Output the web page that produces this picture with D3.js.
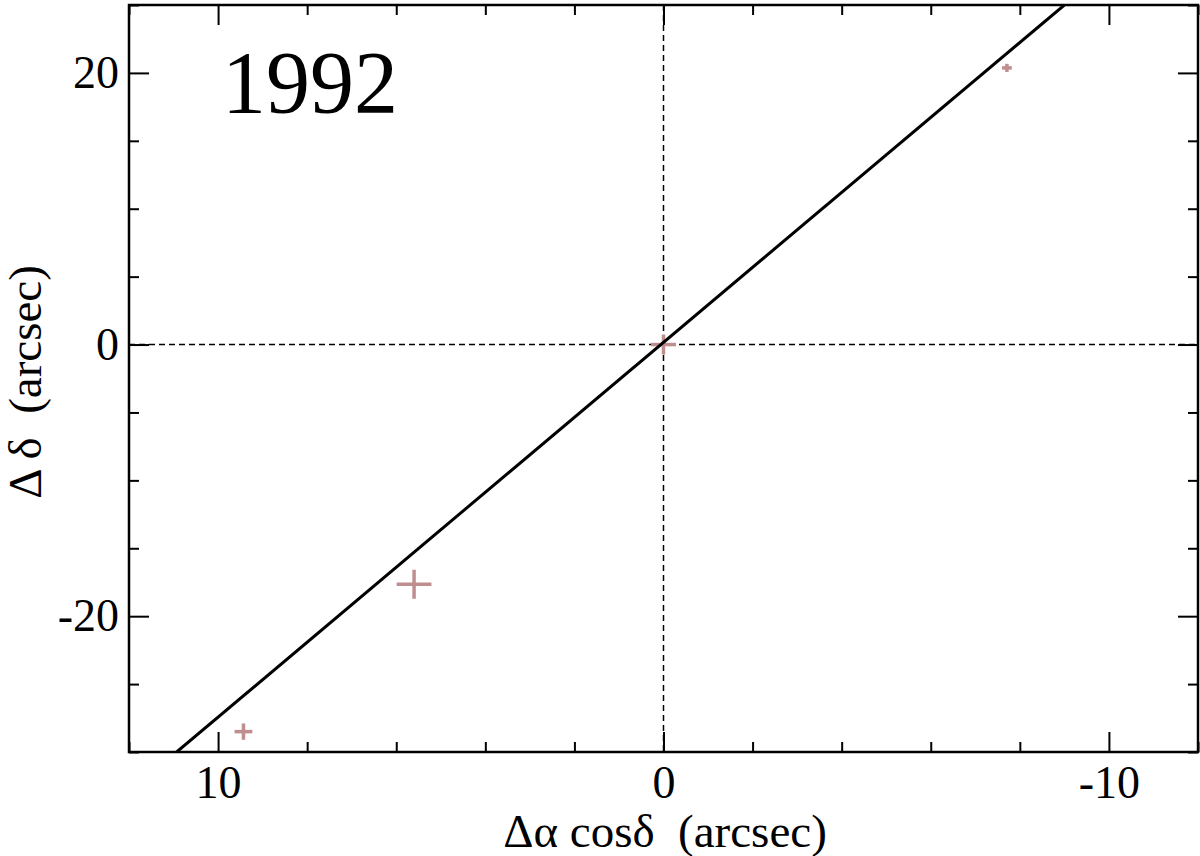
<!DOCTYPE html>
<html>
<head>
<meta charset="utf-8">
<script src="https://cdn.jsdelivr.net/npm/d3@7"></script>
<style>
  html, body { margin: 0; padding: 0; background: #fff; }
</style>
</head>
<body>
<svg id="chart" width="1200" height="856"></svg>
<script>
// ---- data ----
const xDomain = [12, -12];
const yDomain = [-30, 25];
const xMajorTicks = [10, 0, -10];
const xMinorTicks = [12, 8, 6, 4, 2, -2, -4, -6, -8, -12];
const yMajorTicks = [20, 0, -20];
const yMinorTicks = [25, 15, 10, 5, -5, -10, -15, -25, -30];
const pointX = [9.43, 5.60, 0.0, -7.71];
const pointY = [-28.5, -17.65, 0.0, 20.37];
const pointXErr = [0.20, 0.39, 0.28, 0.11];
const pointYErr = [0.60, 1.07, 0.74, 0.30];
const fitLineX = [10.93, -9.0];
const fitLineY = [-30.0, 25.0];
const yearLabel = "1992";
const xLabel = "Δα cosδ  (arcsec)";
const yLabel = "Δ δ  (arcsec)";

const FONT = "Liberation Serif";

// ---- layout ----
const L = 129, R = 1198, T = 5, B = 752;
const svg = d3.select("#chart");
const x = d3.scaleLinear().domain(xDomain).range([L, R]);
const y = d3.scaleLinear().domain(yDomain).range([B, T]);

const defs = svg.append("defs");
defs.append("clipPath").attr("id", "clip")
  .append("rect").attr("x", L).attr("y", T).attr("width", R - L).attr("height", B - T);

const plot = svg.append("g").attr("clip-path", "url(#clip)");

// dashed zero lines
plot.append("line")
  .attr("x1", x(0)).attr("x2", x(0)).attr("y1", T).attr("y2", B)
  .attr("stroke", "#000").attr("stroke-width", 1.5).attr("stroke-dasharray", "6,4");
plot.append("line")
  .attr("x1", L).attr("x2", R).attr("y1", y(0)).attr("y2", y(0))
  .attr("stroke", "#000").attr("stroke-width", 1.5).attr("stroke-dasharray", "6,4");

// error crosses
const pts = pointX.map((v, i) => ({x: v, y: pointY[i], ex: pointXErr[i], ey: pointYErr[i]}));
const crossColor = "#bf8e8e";
const cg = plot.append("g").attr("stroke", crossColor).attr("stroke-width", 3.5);
cg.selectAll(".h").data(pts).join("line").attr("class", "h")
  .attr("x1", d => x(d.x - d.ex)).attr("x2", d => x(d.x + d.ex))
  .attr("y1", d => y(d.y)).attr("y2", d => y(d.y));
cg.selectAll(".v").data(pts).join("line").attr("class", "v")
  .attr("x1", d => x(d.x)).attr("x2", d => x(d.x))
  .attr("y1", d => y(d.y - d.ey)).attr("y2", d => y(d.y + d.ey));

// fit line
const lineData = fitLineX.map((v, i) => [v, fitLineY[i]]);
plot.append("path")
  .datum(lineData)
  .attr("d", d3.line().x(d => x(d[0])).y(d => y(d[1])))
  .attr("fill", "none").attr("stroke", "#000").attr("stroke-width", 3);

// axes
const fmt = d => String(d);
function styleAxis(g) {
  g.style("font-family", FONT);
  g.select(".domain").remove();
  g.selectAll(".tick line").attr("stroke", "#000").attr("stroke-width", 2);
  g.selectAll(".tick text").style("font-size", "46px").style("font-family", FONT).attr("fill", "#000");
}
// bottom
svg.append("g").attr("transform", `translate(0,${B})`)
  .call(d3.axisBottom(x).tickValues(xMajorTicks).tickSize(-20).tickPadding(13).tickFormat(fmt))
  .call(styleAxis);
svg.append("g").attr("transform", `translate(0,${B})`)
  .call(d3.axisBottom(x).tickValues(xMinorTicks).tickSize(-10).tickFormat(""))
  .call(styleAxis);
// top
svg.append("g").attr("transform", `translate(0,${T})`)
  .call(d3.axisTop(x).tickValues(xMajorTicks).tickSize(-20).tickFormat(""))
  .call(styleAxis);
svg.append("g").attr("transform", `translate(0,${T})`)
  .call(d3.axisTop(x).tickValues(xMinorTicks).tickSize(-10).tickFormat(""))
  .call(styleAxis);
// left
svg.append("g").attr("transform", `translate(${L},0)`)
  .call(d3.axisLeft(y).tickValues(yMajorTicks).tickSize(-20).tickPadding(10).tickFormat(fmt))
  .call(styleAxis);
svg.append("g").attr("transform", `translate(${L},0)`)
  .call(d3.axisLeft(y).tickValues(yMinorTicks).tickSize(-10).tickFormat(""))
  .call(styleAxis);
// right
svg.append("g").attr("transform", `translate(${R},0)`)
  .call(d3.axisRight(y).tickValues(yMajorTicks).tickSize(-20).tickFormat(""))
  .call(styleAxis);
svg.append("g").attr("transform", `translate(${R},0)`)
  .call(d3.axisRight(y).tickValues(yMinorTicks).tickSize(-10).tickFormat(""))
  .call(styleAxis);

// frame
svg.append("rect").attr("x", L).attr("y", T).attr("width", R - L).attr("height", B - T)
  .attr("fill", "none").attr("stroke", "#000").attr("stroke-width", 2.5);

// labels
svg.append("text").attr("x", 222).attr("y", 112)
  .style("font-family", FONT).style("font-size", "88px").text(yearLabel);
svg.append("text").attr("x", 665).attr("y", 847).attr("text-anchor", "middle")
  .style("font-family", FONT).style("font-size", "47px").style("white-space", "pre").text(xLabel);
svg.append("text").attr("transform", `translate(41,382) rotate(-90)`)
  .attr("text-anchor", "middle")
  .style("font-family", FONT).style("font-size", "47px").style("white-space", "pre").text(yLabel);
</script>
</body>
</html>
